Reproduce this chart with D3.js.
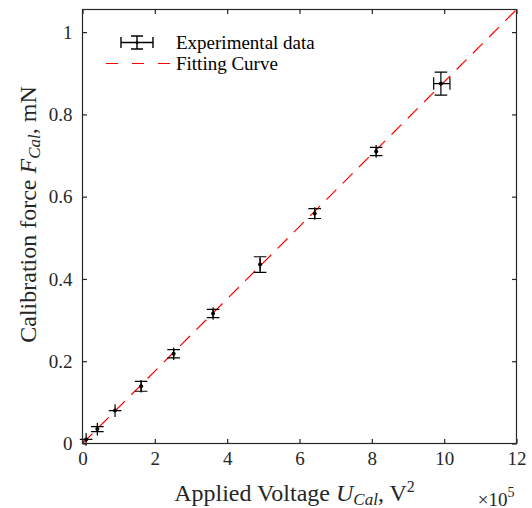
<!DOCTYPE html>
<html>
<head>
<meta charset="utf-8">
<script src="https://cdn.jsdelivr.net/npm/d3@7"></script>
<style>
  body { margin: 0; background: #fff; }
  svg { display: block; font-family: "Liberation Serif", "Times New Roman", serif; }
</style>
</head>
<body>
<div class="chart"></div>
<script>
// voltage squared in units of 1e5 V^2, force in mN
const voltageSq = [0.1, 0.41, 0.9, 1.62, 2.52, 3.61, 4.91, 6.42, 8.12, 9.91];
const force     = [0.010, 0.035, 0.080, 0.139, 0.218, 0.316, 0.435, 0.559, 0.710, 0.875];
const forceErr  = [0.0, 0.006, 0.0, 0.012, 0.010, 0.010, 0.019, 0.012, 0.010, 0.028];
const voltErrNeg = [0, 0, 0, 0, 0, 0, 0, 0, 0, 0.20];
const voltErrPos = [0, 0, 0, 0, 0, 0, 0, 0, 0, 0.25];
const fitSlope = 0.0879;
const fitRange = [0, 12];
const xTicks = [0, 2, 4, 6, 8, 10, 12];
const yTicks = [0, 0.2, 0.4, 0.6, 0.8, 1];

const data = voltageSq.map((v, i) => ({
    x: v, y: force[i], ey: forceErr[i], exn: voltErrNeg[i], exp: voltErrPos[i]
}));

const margin = ({top: 9.5, left: 82.5, right: 15.5, bottom: 64.5});
const width = 532 - margin.left - margin.right,
      height = 508 - margin.top - margin.bottom;

const axisColor = '#262626';

const xScale = d3.scaleLinear().domain([0, 12]).range([0, width]);
const yScale = d3.scaleLinear().domain([0, 1.055]).range([height, 0]);

const svg = d3.select('.chart').append('svg')
    .attr('width', 532)
    .attr('height', 508)
    .append('g')
    .attr('transform', `translate(${margin.left},${margin.top})`);

svg.append('defs').append('clipPath').attr('id', 'plotClip')
    .append('rect').attr('width', width).attr('height', height);

// fitted line
const line = d3.line().x(d => xScale(d)).y(d => yScale(d * fitSlope));
svg.append('path')
    .datum(fitRange)
    .attr('clip-path', 'url(#plotClip)')
    .attr('d', line)
    .attr('fill', 'none')
    .attr('stroke', '#ff0000')
    .attr('stroke-width', 1.2)
    .attr('stroke-dasharray', '14,9');

// error bars (caps are drawn even when the error is zero, like matlab)
const capY = 6.3, capX = 6.3;
const bars = svg.selectAll('.pt').data(data).enter().append('g')
    .attr('class', 'pt')
    .attr('stroke', '#000')
    .attr('stroke-width', 1.2)
    .attr('fill', 'none');

bars.append('path').attr('d', d => {
    const cx = xScale(d.x), t = yScale(d.y + d.ey), b = yScale(d.y - d.ey);
    return `M${cx},${t}V${b}M${cx - capY},${t}H${cx + capY}M${cx - capY},${b}H${cx + capY}`;
});
bars.append('path').attr('d', d => {
    const cy = yScale(d.y), l = xScale(d.x - d.exn), r = xScale(d.x + d.exp);
    return `M${l},${cy}H${r}M${l},${cy - capX}V${cy + capX}M${r},${cy - capX}V${cy + capX}`;
});
bars.append('circle')
    .attr('cx', d => xScale(d.x))
    .attr('cy', d => yScale(d.y))
    .attr('r', 2)
    .attr('fill', '#000')
    .attr('stroke', 'none');

// axes box with inward ticks
const xAxis = d3.axisBottom(xScale).tickValues(xTicks).tickSizeInner(-4.5).tickSizeOuter(0).tickFormat(d3.format('d'));
const xTop = d3.axisTop(xScale).tickValues(xTicks).tickSizeInner(-4.5).tickSizeOuter(0).tickFormat('');
const yAxis = d3.axisLeft(yScale).tickValues(yTicks).tickSizeInner(-4.5).tickSizeOuter(0).tickFormat(d => d === 0 || d === 1 ? d3.format('d')(d) : d3.format('.1f')(d));
const yRight = d3.axisRight(yScale).tickValues(yTicks).tickSizeInner(-4.5).tickSizeOuter(0).tickFormat('');

function styleAxis(g) {
    g.selectAll('path, line').attr('stroke', axisColor).attr('stroke-width', 1.2);
    g.selectAll('text').attr('fill', '#262626').style('font-size', '19px')
        .style('font-family', '"Liberation Serif", "Times New Roman", serif');
}

svg.append('g').attr('transform', `translate(0,${height})`).call(xAxis).call(styleAxis)
    .selectAll('text').attr('dy', '0').attr('y', 21);
svg.append('g').call(xTop).call(styleAxis);
svg.append('g').call(yAxis).call(styleAxis)
    .selectAll('text').attr('x', -10).attr('dy', '0.33em');
svg.append('g').attr('transform', `translate(${width},0)`).call(yRight).call(styleAxis);
svg.selectAll('.domain').attr('d', null);
svg.append('rect')
    .attr('width', width).attr('height', height)
    .attr('fill', 'none').attr('stroke', axisColor).attr('stroke-width', 1.2);

// axis labels
const xLabel = svg.append('text')
    .attr('x', width / 2 - 5)
    .attr('y', height + 57)
    .attr('text-anchor', 'middle')
    .style('font-size', '24px')
    .attr('fill', '#262626');
xLabel.append('tspan').text('Applied Voltage ');
xLabel.append('tspan').attr('font-style', 'italic').text('U');
xLabel.append('tspan').attr('font-style', 'italic').attr('font-size', '17px').attr('dy', 4).text('Cal');
xLabel.append('tspan').attr('dy', -4).text(', V');
xLabel.append('tspan').attr('font-size', '16px').attr('dy', -9).text('2');

const expLabel = svg.append('text')
    .attr('x', width - 2)
    .attr('y', height + 62)
    .attr('text-anchor', 'end')
    .style('font-size', '19px')
    .attr('fill', '#262626');
expLabel.append('tspan').text('×10');
expLabel.append('tspan').attr('font-size', '14px').attr('dy', -9).text('5');

const yLabel = svg.append('text')
    .attr('transform', `translate(${-47},${height / 2 - 12}) rotate(-90)`)
    .attr('text-anchor', 'middle')
    .style('font-size', '24px')
    .attr('fill', '#262626');
yLabel.append('tspan').text('Calibration force ');
yLabel.append('tspan').attr('font-style', 'italic').text('F');
yLabel.append('tspan').attr('font-style', 'italic').attr('font-size', '17px').attr('dy', 4).text('Cal');
yLabel.append('tspan').attr('dy', -4).text(', mN');

// legend
const lg = svg.append('g').attr('transform', `translate(${-margin.left},${-margin.top})`);
const lgErr = lg.append('g').attr('stroke', '#000').attr('stroke-width', 1.4).attr('fill', 'none');
lgErr.append('path').attr('d', 'M121,42.5H153M121,37V48M153,37V48M137,36V49M131,36H143M131,49H143');
lg.append('circle').attr('cx', 137).attr('cy', 42.5).attr('r', 1.5).attr('fill', '#000');
lg.append('line')
    .attr('x1', 106).attr('x2', 170).attr('y1', 63.5).attr('y2', 63.5)
    .attr('stroke', '#ff0000').attr('stroke-width', 1.2)
    .attr('stroke-dasharray', '12,14');
lg.selectAll('.legendLabel')
    .data(['Experimental data', 'Fitting Curve'])
    .enter()
    .append('text')
    .attr('x', 176)
    .attr('y', (d, i) => 48.5 + i * 21)
    .style('font-size', '19px')
    .attr('fill', '#000')
    .text(d => d);
</script>
</body>
</html>
